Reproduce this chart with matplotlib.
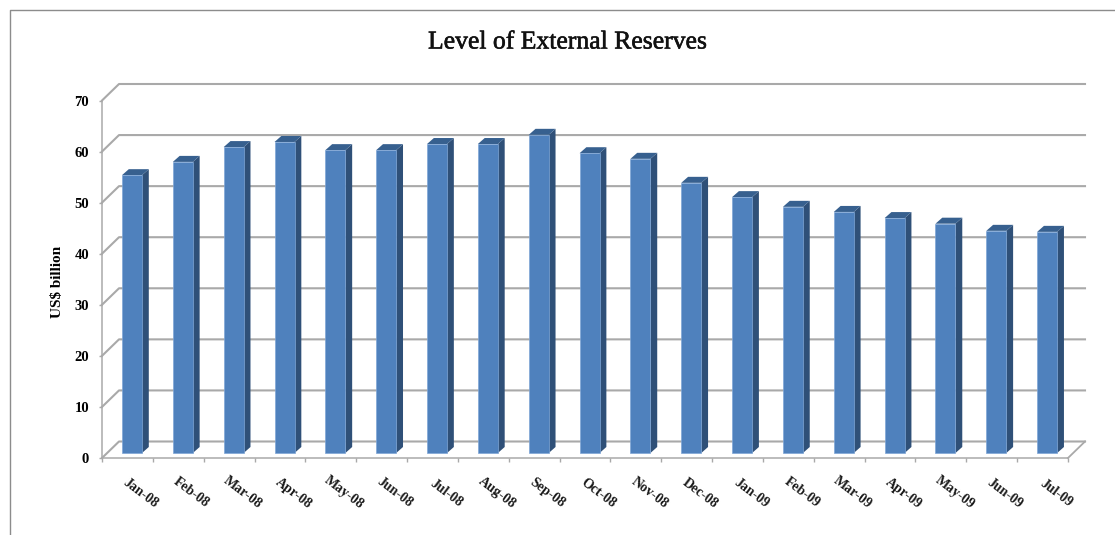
import numpy as np
import matplotlib
matplotlib.use('Agg')
import matplotlib.pyplot as plt
import matplotlib.patheffects as pe
from matplotlib.lines import Line2D
from matplotlib.patches import Polygon

months = ['Jan-08', 'Feb-08', 'Mar-08', 'Apr-08', 'May-08', 'Jun-08', 'Jul-08',
          'Aug-08', 'Sep-08', 'Oct-08', 'Nov-08', 'Dec-08', 'Jan-09', 'Feb-09',
          'Mar-09', 'Apr-09', 'May-09', 'Jun-09', 'Jul-09']
reserves = [54.4, 57.0, 59.9, 60.9, 59.3, 59.3, 60.5, 60.5, 62.3, 58.7,
            57.6, 52.9, 50.1, 48.2, 47.2, 46.0, 44.9, 43.5, 43.3]
y_ticks = [0, 10, 20, 30, 40, 50, 60, 70]

W, H = 1115, 535
GRID = '#a9a9a9'
FRONT = '#4f81bd'
SIDE = '#2f5078'
TOP = '#37608f'

plt.rcParams['font.family'] = ['Liberation Serif', 'DejaVu Serif']

fig = plt.figure(figsize=(W / 100, H / 100), dpi=100)

# axes rectangle is the front plane of the fake 3D box
left, right, bottom, top = 102, 1068, 458, 100.5
ax = fig.add_axes([left / W, 1 - bottom / H, (right - left) / W, (bottom - top) / H])
ax.set_xlim(0, len(months))
ax.set_ylim(0, 70)
ax.patch.set_visible(False)
for s in ['top', 'right']:
    ax.spines[s].set_visible(False)
for s in ['left', 'bottom']:
    ax.spines[s].set_color(GRID)
    ax.spines[s].set_linewidth(1.1)

ux = len(months) / (right - left)  # data units per pixel
uy = 70 / (bottom - top)
depth_x, depth_y = 17 * ux, 16.5 * uy

# back wall gridlines with the slanted piece on the side wall
for v in y_ticks:
    ax.plot([0, depth_x, len(months) + depth_x], [v, v + depth_y, v + depth_y],
            color=GRID, lw=1.5, clip_on=False, zorder=1)
ax.plot([len(months), len(months) + depth_x], [0, depth_y],
        color=GRID, lw=1.3, clip_on=False, zorder=1)

# bars: front face plus darker side and top faces
bar_w = 20 * ux
base_dx, base_dy = 0.09, 5 * uy
off_x, off_y = 6.8 * ux, 6 * uy
for i, val in enumerate(reserves):
    x0 = i + 0.5 + base_dx - bar_w / 2
    x1 = x0 + bar_w
    y0 = base_dy
    y1 = base_dy + val
    ax.add_patch(Polygon([(x1, y0), (x1 + off_x, y0 + off_y), (x1 + off_x, y1 + off_y), (x1, y1)],
                         fc=SIDE, ec='none', zorder=3, clip_on=False))
    ax.add_patch(Polygon([(x0, y1), (x1, y1), (x1 + off_x, y1 + off_y), (x0 + off_x, y1 + off_y)],
                         fc=TOP, ec='none', zorder=3, clip_on=False))
    ax.add_patch(Polygon([(x0, y0), (x1, y0), (x1, y1), (x0, y1)],
                         fc=FRONT, ec='#7fa6d6', lw=0.5, zorder=4, clip_on=False))

ax.set_yticks(y_ticks)
ax.set_xticks(np.arange(len(months) + 1))
ax.set_xticklabels([])
ax.tick_params(axis='x', color=GRID, length=3, width=1)
ax.tick_params(axis='y', color=GRID, length=2.4, width=1, labelsize=10.5, pad=7)
for lab in ax.get_yticklabels():
    lab.set_fontweight('bold')

for i, name in enumerate(months):
    ax.annotate(name, (i + 0.5, 0), xytext=(13.5 * 0.72, -35 * 0.72), textcoords='offset points',
                rotation=-37, ha='center', va='center', rotation_mode='anchor',
                fontsize=10, fontweight='bold', color='#1a1a1a', annotation_clip=False)

fig.text(58 / W, 1 - 282 / H, 'US$ billion', rotation=90, ha='center', va='center',
         fontsize=11, fontweight='bold')
title = fig.text(568 / W, 1 - 42.5 / H, 'Level of External Reserves', ha='center', va='center',
                 fontsize=18.5, fontweight='normal', color='#111111')
title.set_path_effects([pe.withStroke(linewidth=0.4, foreground='#111111')])

# outer chart frame, only top and left edges are in view
fig.add_artist(Line2D([9.5 / W, 9.5 / W, 1], [0, 1 - 10 / H, 1 - 10 / H],
                      color='#8c8c8c', lw=1))

fig.savefig('out.png', dpi=100)
